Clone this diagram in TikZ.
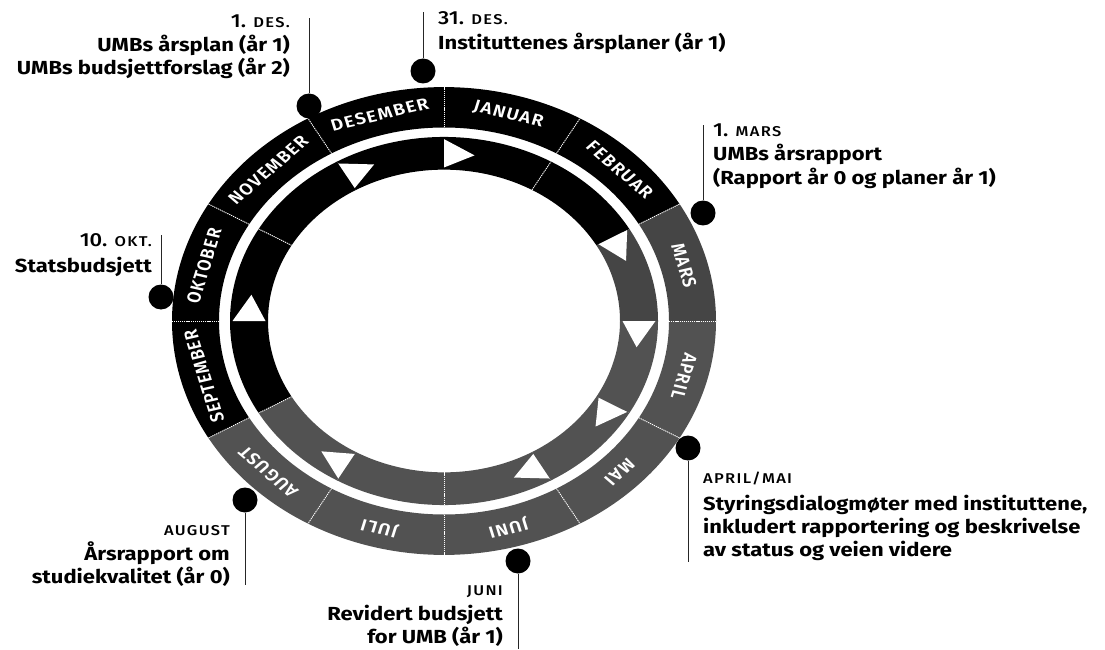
\documentclass[tikz,border=0pt]{standalone}
\usepackage{fontspec}
\setmainfont{Fira Sans}
\IfFontExistsTF{Fira Sans Medium}
  {\newfontfamily\scfont[LetterSpace=8]{Fira Sans Medium}\newfontfamily\datefont{Fira Sans Medium}}
  {\newfontfamily\scfont[LetterSpace=8]{Fira Sans}\newfontfamily\datefont{Fira Sans}}
\IfFontExistsTF{Fira Sans SemiBold}
  {\newfontfamily\ringfont[LetterSpace=7]{Fira Sans SemiBold}}
  {\newfontfamily\ringfont[LetterSpace=6]{Fira Sans}[UprightFont=*-Bold]}
\newcommand{\smc}[1]{{\scfont\fontsize{16.5}{20}\selectfont #1}}
\definecolor{grayA}{gray}{0.32}
\definecolor{grayM}{gray}{0.27}
\tikzset{
  txt/.style={inner sep=0pt, yscale=0.86, font=\fontsize{22}{26}\selectfont\bfseries},
  datetxt/.style={inner sep=0pt, yscale=0.86, font=\datefont\fontsize{22}{26}\selectfont},
  dot/.style={circle, fill=black, minimum size=25pt, inner sep=0pt},
  callout/.style={draw=black!85, line width=0.7pt},
  monthlbl/.style={text=white, font=\ringfont\fontsize{19}{19}\selectfont, inner sep=0pt, transform shape},
  divider/.style={draw=white, line width=0.9pt, dash pattern=on 1.2pt off 0.9pt},
}
\begin{document}
\begin{tikzpicture}[x=1pt, y=1pt]
\useasboundingbox (0,0) rectangle (1105,649);
\fill[white] (0,0) rectangle (1105,649);

% ring
\begin{scope}[shift={(444,328)}, yscale=0.86]
  \foreach \s/\e/\c in {90/60/black, 60/30/black, 30/0/grayM, 0/-30/grayA, -30/-60/grayA, -60/-90/grayA, -90/-120/grayA, -120/-150/grayA, -150/-180/black, 180/150/black, 150/120/black, 120/90/black} {
    \fill[\c] (\s:272) arc[start angle=\s, end angle=\e, radius=272] -- (\e:225) arc[start angle=\e, end angle=\s, radius=225] -- cycle;
    \fill[\c] (\s:214) arc[start angle=\s, end angle=\e, radius=214] -- (\e:176) arc[start angle=\e, end angle=\s, radius=176] -- cycle;
  }
  \foreach \a in {0,30,...,330} \draw[divider] (\a:225) -- (\a:272);
  \foreach \a in {150,60,-90,-150} \draw[divider] (\a:176) -- (\a:214);
  \foreach \a in {180,120,90,30,0,-30,-60,-120} \fill[white] (\a:211.5) -- (\a:178.5) -- ({\a-9}:195) -- cycle;
  \foreach \m/\a in {JANUAR/75, FEBRUAR/45, MARS/15, APRIL/-15, MAI/-45, JUNI/-75, JULI/-105, AUGUST/-135, SEPTEMBER/-165, OKTOBER/165, NOVEMBER/135, DESEMBER/105}
    \node[monthlbl, rotate=\a-90] (m\m) at (\a:248.5) {\m};
\end{scope}

% dots
\node[dot] (dDes1) at (309,543) {};
\node[dot] (dDes31) at (423,578) {};
\node[dot] (dMars) at (703,436) {};
\node[dot] (dOkt) at (161,352) {};
\node[dot] (dAprMai) at (688,201) {};
\node[dot] (dAug) at (245,149) {};
\node[dot] (dJuni) at (518,88) {};

% callout ends
\coordinate (cDes1) at (309,631);
\coordinate (cDes31) at (423,637);
\coordinate (cMars) at (703,524);
\coordinate (cOkt) at (161,414);
\coordinate (cAprMai) at (688,87);
\coordinate (cAug) at (245,64);
\coordinate (cJuni) at (518,0);
\draw[callout] (dDes1) -- (cDes1);
\draw[callout] (dDes31) -- (cDes31);
\draw[callout] (dMars) -- (cMars);
\draw[callout] (dOkt) -- (cOkt);
\draw[callout] (dAprMai) -- (cAprMai);
\draw[callout] (dAug) -- (cAug);
\draw[callout] (dJuni) -- (cJuni);

% texts
\node[datetxt, anchor=base east] (tDes1a) at (290,621) {1. \smc{DES.}};
\node[txt, anchor=base east] (tDes1b) at (290,597) {UMBs årsplan (år 1)};
\node[txt, anchor=base east] (tDes1c) at (290,574.5) {UMBs budsjettforslag (år 2)};

\node[datetxt, anchor=base west] (tDes31a) at (438,624) {31. \smc{DES.}};
\node[txt, anchor=base west] (tDes31b) at (438,599) {Instituttenes årsplaner (år 1)};

\node[datetxt, anchor=base west] (tMarsa) at (713,512) {1. \smc{MARS}};
\node[txt, anchor=base west] (tMarsb) at (713,488) {UMBs årsrapport};
\node[txt, anchor=base west] (tMarsc) at (713,464) {(Rapport år 0 og planer år 1)};

\node[datetxt, anchor=base east] (tOkta) at (152,402) {10. \smc{OKT.}};
\node[txt, anchor=base east] (tOktb) at (152,377) {Statsbudsjett};

\node[datetxt, anchor=base west] (tAprMaia) at (703,166) {\smc{APRIL/MAI}};
\node[txt, anchor=base west] (tAprMaib) at (703,139) {Styringsdialogmøter med instituttene,};
\node[txt, anchor=base west] (tAprMaic) at (703,116) {inkludert rapportering og beskrivelse};
\node[txt, anchor=base west] (tAprMaid) at (703,93) {av status og veien videre};

\node[datetxt, anchor=base east] (tAuga) at (230,114) {\smc{AUGUST}};
\node[txt, anchor=base east] (tAugb) at (230,89) {Årsrapport om};
\node[txt, anchor=base east] (tAugc) at (230,66) {studiekvalitet (år 0)};

\node[datetxt, anchor=base east] (tJunia) at (503,54) {\smc{JUNI}};
\node[txt, anchor=base east] (tJunib) at (503,29) {Revidert budsjett};
\node[txt, anchor=base east] (tJunic) at (503,6) {for UMB (år 1)};
\end{tikzpicture}
\end{document}
